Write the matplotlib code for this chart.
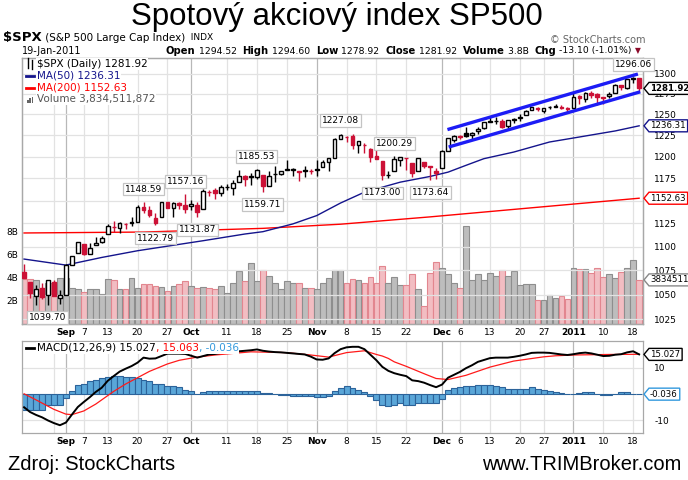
import matplotlib
matplotlib.use("Agg")
import matplotlib.pyplot as plt
from matplotlib.lines import Line2D
from matplotlib.patches import Polygon, Rectangle
from matplotlib.transforms import IdentityTransform
import numpy as np
import pandas as pd

plt.rcParams.update({
    "font.family": ["DejaVu Sans"],
    "font.size": 7,
})

W, H = 688, 480

# ---------------------------------------------------------------- data
HOLIDAYS = ["2010-09-06", "2010-11-25", "2010-12-24", "2011-01-17"]
DAYS = [d for d in pd.bdate_range("2010-08-23", "2011-01-19")
        if d.strftime("%Y-%m-%d") not in HOLIDAYS]

PREV_CLOSE = 1071.69  # close before the first bar

OPEN = [1073.4, 1063.2, 1049.0, 1056.3, 1049.3, 1062.9, 1046.9,
        1049.7, 1080.7, 1093.6, 1102.6, 1092.4, 1101.2, 1104.6,
        1113.4, 1121.2, 1119.4, 1123.9, 1126.4,
        1126.6, 1142.8, 1139.5, 1131.1, 1131.7,
        1148.6, 1142.3, 1146.9, 1145.0,
        1143.5,
        1145.0, 1140.7, 1159.8, 1161.6, 1158.4,
        1165.3, 1164.3, 1171.3, 1177.8, 1177.5,
        1176.8, 1178.6, 1166.7, 1179.8, 1180.5,
        1184.7, 1184.9, 1183.8, 1184.5, 1183.9,
        1185.7, 1187.9, 1193.8, 1198.3, 1221.2,
        1223.2, 1223.6, 1213.1, 1213.0, 1209.1,
        1200.4, 1194.8, 1178.3, 1183.8, 1196.1,
        1198.1, 1192.5, 1183.7, 1194.2,
        1189.1, 1183.0,
        1186.6, 1206.8, 1219.9,
        1223.9, 1227.3, 1225.0, 1230.1, 1233.9,
        1242.5, 1241.8, 1241.6, 1236.3, 1243.6,
        1245.8, 1249.4, 1254.9, 1257.5,
        1254.7, 1259.1, 1258.8, 1259.4, 1256.8,
        1257.6, 1272.9, 1268.8, 1276.3, 1274.4,
        1270.8, 1272.6, 1275.7, 1285.8, 1282.9,
        1293.2, 1294.52]

HIGH = [1081.6, 1063.2, 1059.4, 1061.5, 1065.2, 1064.4, 1055.1,
        1081.3, 1090.1, 1105.1, 1102.6, 1103.3, 1110.3, 1110.9,
        1123.9, 1127.4, 1126.5, 1125.4, 1131.5,
        1144.9, 1148.59, 1144.4, 1136.8, 1148.5,
        1148.0, 1147.9, 1148.6, 1157.16,
        1150.3,
        1148.2, 1162.8, 1162.3, 1163.9, 1167.7,
        1168.7, 1172.6, 1184.4, 1178.9, 1181.2,
        1185.53, 1178.6, 1182.9, 1189.4, 1183.9,
        1196.1, 1187.1, 1183.8, 1189.5, 1185.5,
        1195.8, 1195.9, 1198.3, 1221.3, 1227.08,
        1224.6, 1226.8, 1218.8, 1215.5, 1210.5,
        1207.4, 1194.8, 1183.6, 1200.29, 1199.97,
        1198.9, 1192.5, 1198.6, 1194.2,
        1189.1, 1187.4,
        1207.6, 1221.9, 1225.6,
        1225.8, 1235.1, 1228.9, 1234.7, 1240.4,
        1246.7, 1246.6, 1244.3, 1243.8, 1245.8,
        1250.2, 1255.8, 1259.4, 1258.6,
        1258.4, 1259.9, 1262.6, 1261.1, 1259.3,
        1276.2, 1274.1, 1277.6, 1278.2, 1276.8,
        1271.5, 1277.6, 1286.9, 1286.6, 1293.2,
        1296.06, 1294.60]

LOW = [1067.1, 1046.7, 1039.8, 1045.4, 1039.70, 1048.8, 1040.9,
       1049.7, 1080.4, 1093.6, 1091.2, 1092.4, 1101.2, 1103.9,
       1113.4, 1115.6, 1114.6, 1118.9, 1122.4,
       1126.6, 1136.2, 1131.6, 1122.79, 1131.7,
       1142.0, 1131.9, 1140.3, 1136.1,
       1139.4,
       1131.87, 1140.7, 1154.9, 1151.4, 1155.6,
       1162.0, 1155.7, 1171.3, 1166.7, 1167.1,
       1174.6, 1159.71, 1166.7, 1171.2, 1179.0,
       1184.7, 1177.7, 1171.7, 1177.1, 1179.7,
       1177.7, 1187.9, 1183.6, 1198.3, 1220.3,
       1217.6, 1208.9, 1204.3, 1204.5, 1194.1,
       1197.2, 1173.00, 1175.8, 1183.75, 1189.4,
       1184.5, 1176.9, 1183.7, 1186.9,
       1173.64, 1174.1,
       1186.6, 1206.8, 1216.6,
       1220.7, 1223.3, 1219.5, 1226.8, 1232.6,
       1240.3, 1238.2, 1234.0, 1232.9, 1239.9,
       1241.5, 1249.4, 1254.9, 1254.0,
       1251.5, 1256.2, 1258.8, 1256.3, 1253.0,
       1257.6, 1262.7, 1265.4, 1270.4, 1261.7,
       1262.2, 1269.6, 1275.7, 1280.5, 1281.1,
       1288.3, 1278.92]

CLOSE = [1067.36, 1051.87, 1055.33, 1047.22, 1064.59, 1048.92, 1049.33,
         1080.29, 1090.10, 1104.51, 1091.84, 1098.87, 1104.18, 1109.55,
         1121.90, 1121.10, 1125.07, 1124.66, 1125.59,
         1142.71, 1139.78, 1134.28, 1124.83, 1148.67,
         1142.16, 1147.70, 1144.73, 1141.20,
         1146.24,
         1137.03, 1160.75, 1159.97, 1158.06, 1165.15,
         1165.32, 1169.77, 1178.10, 1173.81, 1176.19,
         1184.71, 1165.90, 1178.17, 1180.26, 1183.08,
         1185.62, 1185.64, 1182.45, 1183.78, 1183.26,
         1184.38, 1193.57, 1197.96, 1221.06, 1225.85,
         1223.25, 1213.40, 1218.71, 1213.54, 1199.21,
         1197.75, 1178.34, 1178.59, 1196.69, 1199.73,
         1197.84, 1180.73, 1198.35, 1189.40,
         1187.76, 1180.55,
         1206.07, 1221.53, 1224.71,
         1223.12, 1223.75, 1228.28, 1233.00, 1240.40,
         1240.46, 1241.59, 1235.23, 1242.87, 1243.91,
         1247.08, 1254.60, 1258.84, 1256.77,
         1257.54, 1258.51, 1259.78, 1257.88, 1257.64,
         1271.87, 1270.20, 1276.56, 1273.85, 1271.50,
         1269.75, 1274.48, 1285.96, 1283.76, 1293.24,
         1295.02, 1281.92]

# volume in billions of shares
VOLUME = [3.9, 3.9, 3.8, 3.1, 3.6, 3.5, 4.0,
          4.0, 3.1, 3.0, 2.8, 3.0, 3.0, 2.6,
          3.9, 3.8, 3.0, 3.0, 4.0,
          3.1, 3.5, 3.5, 3.3, 3.2,
          2.9, 3.3, 3.5, 3.7,
          3.3,
          3.1, 3.2, 3.1, 3.0, 3.3,
          2.7, 3.6, 4.6, 3.7, 5.3,
          3.7, 4.7, 4.2, 3.6, 3.0,
          3.7, 3.6, 3.6, 3.1, 3.1,
          3.0, 3.6, 4.0, 4.7, 4.7,
          3.6, 3.9, 3.8, 3.6, 4.1,
          3.6, 5.0, 3.6, 4.1, 3.4,
          3.4, 4.3, 3.0, 1.6,
          4.4, 5.4,
          4.9, 4.3, 3.6,
          3.1, 8.5, 3.8, 4.3, 3.8,
          4.4, 4.2, 4.7, 4.2, 4.6,
          3.4, 3.5, 3.5, 2.1,
          2.1, 2.5, 2.3, 2.4, 2.2,
          4.9, 4.8, 4.8, 4.4, 4.9,
          4.1, 4.3, 4.0, 4.5, 4.9,
          5.6, 3.83]

MA50_DAY = [0, 7, 13, 19, 30, 37, 40, 45, 49, 53, 57, 63, 68, 71, 74, 77,
            82, 88, 93, 99, 103]
MA50 = [1086.7, 1080.4, 1088.4, 1095.5, 1106.2, 1113.4, 1115.9, 1124.3,
        1133.4, 1147.3, 1159.4, 1170.7, 1177.2, 1182.1, 1189.9, 1197.6,
        1205.3, 1217.1, 1223.0, 1230.2, 1236.31]

MA200_DAY = [0, 20, 40, 53, 68, 85, 103]
MA200 = [1114.5, 1115.5, 1119.5, 1124.0, 1132.0, 1142.0, 1152.63]

MACD = [-5.0, -6.8, -7.9, -8.8, -10.0, -11.0, -11.8, -10.8, -7.8, -4.9,
        -3.0, -1.2, 0.8, 2.4, 5.0, 6.8, 8.5, 9.6, 10.6, 11.9,
        13.8, 13.4, 13.5, 14.4, 15.3, 15.3, 15.3, 15.2, 14.5, 13.8,
        14.4, 15.0, 15.2, 15.6, 15.8, 16.0, 16.2, 16.4, 16.6, 16.9,
        16.4, 16.1, 15.9, 15.8, 15.6, 15.4, 15.2, 15.0, 14.2, 13.1,
        13.0, 13.5, 15.5, 17.0, 17.7, 17.9, 17.9, 17.0, 14.9, 12.8,
        10.3, 8.8, 7.9, 7.3, 6.8, 5.2, 4.9, 4.3, 3.4, 2.6,
        3.6, 6.2, 7.3, 8.4, 9.8, 10.9, 12.2, 12.9, 13.6, 13.8,
        13.8, 13.8, 14.1, 14.5, 15.0, 15.6, 15.7, 15.7, 15.6, 15.3,
        15.0, 14.8, 15.1, 15.5, 15.7, 15.4, 14.9, 14.4, 14.5, 14.9,
        15.1, 15.8, 16.2, 15.027]

SIGNAL_DAY = [0, 2, 5, 7, 8, 10, 12, 15, 17, 19, 21, 24, 26, 29, 32, 38,
              44, 48, 51, 54, 57, 59, 60, 61, 62, 64, 67, 69, 71, 74, 78,
              82, 87, 89, 92, 98, 103]
SIGNAL = [0.1, -2.2, -5.8, -7.6, -7.8, -6.4, -3.8, 1.0, 3.8, 6.2, 8.6,
          11.4, 12.8, 14.0, 14.8, 16.0, 15.7, 14.8, 14.0, 15.7, 16.4,
          15.0, 14.4, 13.5, 12.2, 10.5, 7.7, 5.9, 5.5, 7.1, 10.2, 12.5,
          14.1, 14.5, 14.8, 15.0, 15.063]

HIST = [-5.9, -5.9, -6.1, -6.1, -4.2, -4.2, -4.2, -1.5, 1.1, 3.4,
        3.9, 4.9, 5.5, 6.0, 6.4, 6.7, 6.7, 6.4, 6.4, 5.9,
        5.5, 4.9, 3.9, 3.9, 3.0, 3.0, 2.6, 1.5, 1.1, 0.05,
        0.8, 1.1, 1.1, 1.1, 1.2, 1.1, 1.1, 1.2, 1.1, 1.1,
        0.4, 0.3, -0.1, -0.2, -0.3, -0.6, -0.6, -0.8, -0.8, -1.0,
        -1.2, -0.6, 1.1, 2.3, 3.0, 2.3, 1.6, 0.8, -0.8, -2.2,
        -4.1, -4.7, -4.3, -3.4, -4.1, -4.1, -3.4, -3.4, -3.4, -3.4,
        -1.8, 1.6, 2.3, 2.7, 3.0, 3.2, 3.5, 3.5, 3.5, 3.0,
        2.7, 2.0, 2.0, 2.0, 2.0, 2.5, 2.0, 1.6, 1.3, 0.8,
        0.4, 0.0, 0.1, 0.4, 0.8, 0.8, 0.0, -0.5, -0.5, 0.0,
        0.8, 0.8, 0.0, -0.036]

# swing high / low annotations (day, value, above?)
SWINGS = [(4, 1039.70, False), (20, 1148.59, True), (22, 1122.79, False),
          (27, 1157.16, True), (29, 1131.87, False), (39, 1185.53, True),
          (40, 1159.71, False), (53, 1227.08, True), (60, 1173.00, False),
          (62, 1200.29, True), (68, 1173.64, False), (102, 1296.06, True)]

# hand-drawn trend channel (day, price)
CHANNEL_UP = ([70.9, 102.8], [1231.8, 1299.9])
CHANNEL_DN = ([71.1, 103.2], [1211.2, 1277.7])

TICKS = [("2010-09-01", "Sep", True), ("2010-09-07", "7", False),
         ("2010-09-13", "13", False), ("2010-09-20", "20", False),
         ("2010-09-27", "27", False), ("2010-10-01", "Oct", True),
         ("2010-10-11", "11", False), ("2010-10-18", "18", False),
         ("2010-10-25", "25", False), ("2010-11-01", "Nov", True),
         ("2010-11-08", "8", False), ("2010-11-15", "15", False),
         ("2010-11-22", "22", False), ("2010-12-01", "Dec", True),
         ("2010-12-06", "6", False), ("2010-12-13", "13", False),
         ("2010-12-20", "20", False), ("2010-12-27", "27", False),
         ("2011-01-03", "2011", True), ("2011-01-10", "10", False),
         ("2011-01-18", "18", False)]
EXTRA_GRID = ["2010-08-30"]

PRICE_LEVELS = [1025, 1050, 1075, 1100, 1125, 1175, 1200, 1225, 1250, 1275, 1300]
GRID_LEVELS = list(range(1025, 1301, 25))

# ---------------------------------------------------------------- styling
RED = "#CC1136"
NAVY = "#14148C"
GRID = "#E2E2E2"
GRID_MONTH = "#B8B8B8"
SPINE = "#A8A8A8"

day_pos = {d.strftime("%Y-%m-%d"): i for i, d in enumerate(DAYS)}
x = np.arange(len(DAYS))
o, h, l, c = (np.array(a) for a in (OPEN, HIGH, LOW, CLOSE))
prev = np.r_[PREV_CLOSE, c[:-1]]
up = c >= prev
edge = np.where(up, "black", RED)
fill = np.where(c > o, "white", edge)

fig = plt.figure(figsize=(W / 100, H / 100), dpi=100)
R = fig.canvas.get_renderer()


def fpos(px, py):
    return px / W, 1 - py / H


def chain(px, py, parts):
    xx = px
    for s, kw in parts:
        t = fig.text(*fpos(xx, py), s, ha="left", va="center", **kw)
        xx += t.get_window_extent(R).width
    return xx


def tag(ydisp, text, ec, tc="black", weight="normal", left=644):
    t = fig.text((left + 6) / W, ydisp / H, text, ha="left", va="center",
                 fontsize=6.2, color=tc, weight=weight, zorder=11)
    bb = t.get_window_extent(R)
    top, bot = ydisp + 6, ydisp - 6
    poly = Polygon([(left, ydisp), (left + 5, top), (bb.x1 + 2, top),
                    (bb.x1 + 2, bot), (left + 5, bot)], closed=True,
                   transform=IdentityTransform(), fc="white", ec=ec, lw=1,
                   zorder=10)
    fig.add_artist(poly)


# ---------------------------------------------------------------- main panel
ax_v = fig.add_axes([22 / W, 1 - 324 / H, 621 / W, 266 / H])
ax_p = ax_v.twinx()

grid_days = [day_pos[d] for d, _, _ in TICKS] + [day_pos[d] for d in EXTRA_GRID]
month_days = [day_pos[d] for d, _, b in TICKS if b]

for gd in grid_days:
    ax_v.axvline(gd, color=GRID_MONTH if gd in month_days else GRID,
                 lw=0.9, zorder=0)

vol_fc = np.where(up, "#BDBDBD", "#F2BDC2")
vol_ec = np.where(up, "#8E8E8E", "#E2868F")
ax_v.bar(x, VOLUME, width=0.96, color=vol_fc, edgecolor=vol_ec, lw=0.8,
         zorder=2)
ax_v.set_ylim(0, 23.1)
ax_v.set_xlim(-0.35, 103.65)
ax_v.set_yticks([2, 4, 6, 8], ["2B", "4B", "6B", "8B"])

ax_p.set_yscale("log")
ax_p.set_ylim(1020.5, 1320.2)
ax_p.set_yticks(PRICE_LEVELS, [str(v) for v in PRICE_LEVELS])
ax_p.set_yticks([], minor=True)
for lv in GRID_LEVELS:
    ax_p.axhline(lv, color=GRID, lw=0.9, zorder=0)

ax_p.plot(MA200_DAY, MA200, color="#FF0000", lw=1.0, zorder=3)
ax_p.plot(MA50_DAY, MA50, color=NAVY, lw=1.0, zorder=3)

ax_p.vlines(x, l, h, colors=edge, lw=1.0, zorder=4)
ax_p.bar(x, np.abs(c - o), bottom=np.minimum(o, c), width=0.62, color=fill,
         edgecolor=edge, lw=1.0, zorder=5)

ax_p.plot(*CHANNEL_UP, color="#1C1CF5", lw=2.4, solid_capstyle="butt", zorder=6)
ax_p.plot(*CHANNEL_DN, color="#1C1CF5", lw=2.4, solid_capstyle="butt", zorder=6)

for d, v, above in SWINGS:
    ax_p.annotate(f"{v:.2f}", xy=(d, v), xytext=(0, 6 if above else -6),
                  textcoords="offset points", ha="center",
                  va="bottom" if above else "top", fontsize=6.5, zorder=8,
                  bbox=dict(boxstyle="square,pad=0.2", fc="white",
                            ec="#C4C4C4", lw=0.9))

for axx in (ax_v, ax_p):
    axx.tick_params(length=0, labelsize=6.5, pad=3)
    for s in axx.spines.values():
        s.set_color(SPINE)
        s.set_linewidth(0.9)
ax_p.tick_params(axis="y", pad=8)

tick_idx = [day_pos[d] for d, _, _ in TICKS]
ax_v.set_xticks(tick_idx, [t for _, t, _ in TICKS])

# ---------------------------------------------------------------- MACD panel
ax_m = fig.add_axes([22 / W, 1 - 433 / H, 621 / W, 92 / H], sharex=ax_v)
for gd in grid_days:
    ax_m.axvline(gd, color=GRID_MONTH if gd in month_days else GRID,
                 lw=0.9, zorder=0)
for lv in (-10, 10):
    ax_m.axhline(lv, color=GRID, lw=0.9, zorder=0)
ax_m.bar(x, HIST, width=1.0, color="#5AA6D8", edgecolor="#2C639A", lw=0.8,
         zorder=2)
ax_m.plot(SIGNAL_DAY, SIGNAL, color="#FF1A1A", lw=0.9, zorder=3)
ax_m.plot(x, MACD, color="black", lw=1.4, zorder=4)
ax_m.set_ylim(-14.75, 20.1)
ax_m.yaxis.tick_right()
ax_m.set_yticks([-10, 10], ["-10", "10"])
ax_m.tick_params(length=0, labelsize=6.5, pad=8)
ax_m.tick_params(axis="x", pad=3)
for s in ax_m.spines.values():
    s.set_color(SPINE)
    s.set_linewidth(0.9)

for axx in (ax_v, ax_m):
    for t, (_, _, bold) in zip(axx.get_xticklabels(), TICKS):
        if bold:
            t.set_fontweight("bold")

# ---------------------------------------------------------------- texts
fig.text(*fpos(337, 17), "Spotový akciový index SP500", ha="center",
         va="center", fontsize=22.5, family=["Liberation Sans", "DejaVu Sans"])

chain(3, 38, [("$SPX", dict(fontsize=9.5, weight="bold")),
              (" (S&P 500 Large Cap Index)", dict(fontsize=7.5)),
              ("  INDX", dict(fontsize=6.5))])
fig.text(*fpos(22, 51), "19-Jan-2011", ha="left", va="center", fontsize=7)
chain(166, 51, [("Open", dict(fontsize=7.2, weight="bold")),
                (" 1294.52  ", dict(fontsize=6.7)),
                ("High", dict(fontsize=7.2, weight="bold")),
                (" 1294.60  ", dict(fontsize=6.7)),
                ("Low", dict(fontsize=7.2, weight="bold")),
                (" 1278.92  ", dict(fontsize=6.7)),
                ("Close", dict(fontsize=7.2, weight="bold")),
                (" 1281.92  ", dict(fontsize=6.7)),
                ("Volume", dict(fontsize=7.2, weight="bold")),
                (" 3.8B  ", dict(fontsize=6.7)),
                ("Chg", dict(fontsize=7.2, weight="bold")),
                (" -13.10 (-1.01%) ", dict(fontsize=6.7)),
                ("▼", dict(fontsize=5.5, color="#8C0A2A"))])
fig.text(*fpos(645, 40), "© StockCharts.com", ha="right", va="center",
         fontsize=7, color="#666666")

# legend of the main panel
leg = [("$SPX (Daily) 1281.92", "black", 64),
       ("MA(50) 1236.31", NAVY, 76),
       ("MA(200) 1152.63", "#FF0000", 88),
       ("Volume 3,834,511,872", "#555555", 99)]
for s, col, py in leg:
    fig.text(*fpos(37, py), s, ha="left", va="center", fontsize=7.5,
             color=col, zorder=12,
             bbox=dict(boxstyle="square,pad=0.05", fc="white", ec="none"))
fig.add_artist(Line2D([26, 34], [H - 76, H - 76], color=NAVY, lw=2,
                      transform=IdentityTransform(), zorder=13))
fig.add_artist(Line2D([26, 34], [H - 88, H - 88], color="#FF0000", lw=2,
                      transform=IdentityTransform(), zorder=13))
for i, hh in enumerate([3, 5, 6]):
    fig.add_artist(Rectangle((27 + i * 2.4, H - 103), 1.6, hh,
                             transform=IdentityTransform(), fc="#666666",
                             ec="none", zorder=13))
for i, (lo_, hi_) in enumerate([(58, 68), (60, 69)]):
    fig.add_artist(Line2D([28 + i * 4, 28 + i * 4], [H - hi_, H - lo_],
                          color="black", lw=1, transform=IdentityTransform(),
                          zorder=13))

# MACD legend
fig.add_artist(Line2D([26, 34], [H - 348, H - 348], color="black", lw=2,
                      transform=IdentityTransform(), zorder=13))
wb = dict(boxstyle="square,pad=0.05", fc="white", ec="none")
chain(37, 348, [("MACD(12,26,9) 15.027", dict(fontsize=7.5, color="black",
                                              zorder=12, bbox=wb)),
                (", 15.063", dict(fontsize=7.5, color="#FF0000", zorder=12,
                                  bbox=wb)),
                (", -0.036", dict(fontsize=7.5, color="#3399DD", zorder=12,
                                  bbox=wb))])

# value tags on the right edge
tag(ax_p.transData.transform((0, CLOSE[-1]))[1], f"{CLOSE[-1]:.2f}", "black",
    weight="bold")
tag(ax_p.transData.transform((0, MA50[-1]))[1], f"{MA50[-1]:.2f}", NAVY)
tag(ax_p.transData.transform((0, MA200[-1]))[1], f"{MA200[-1]:.2f}", "#FF0000")
tag(ax_v.transData.transform((0, VOLUME[-1]))[1], "3834511872", "#888888")
tag(ax_m.transData.transform((0, MACD[-1]))[1], f"{MACD[-1]:.3f}", "black")
tag(ax_m.transData.transform((0, HIST[-1]))[1], f"{HIST[-1]:.3f}", "#3399DD")

# footer
foot = ["Liberation Sans Narrow", "Liberation Sans", "DejaVu Sans"]
fig.text(*fpos(8, 465), "Zdroj: StockCharts", ha="left", va="center",
         fontsize=14.5, family=foot)
fig.text(*fpos(681, 465), "www.TRIMBroker.com", ha="right", va="center",
         fontsize=14.5, family=foot)

fig.savefig("out.png", dpi=100, facecolor="white")
